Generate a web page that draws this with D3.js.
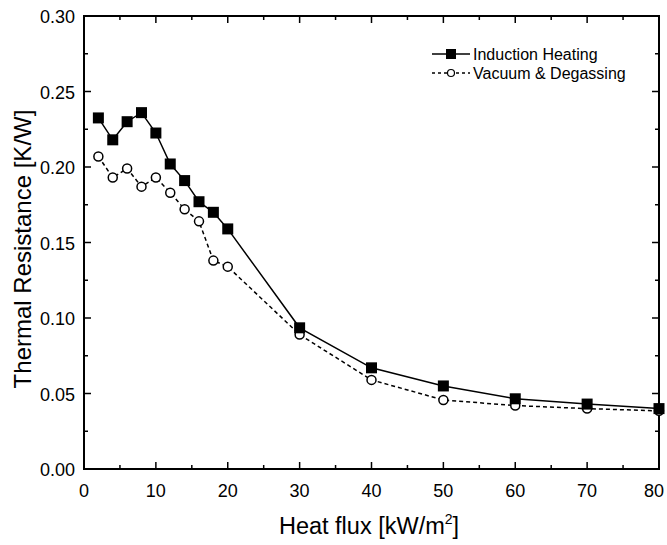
<!DOCTYPE html>
<html><head><meta charset="utf-8">
<script src="https://cdn.jsdelivr.net/npm/d3@7"></script>
<style>body{margin:0;background:#fff}svg{display:block}text{font-family:"Liberation Sans",Arial,sans-serif}</style>
</head><body>
<svg id="c" width="667" height="545"></svg>
<script>
const xValues = [2,4,6,8,10,12,14,16,18,20,30,40,50,60,70,80];
const inductionHeating = [0.2325,0.218,0.230,0.236,0.2225,0.202,0.191,0.177,0.170,0.159,0.0935,0.067,0.055,0.0465,0.043,0.040];
const vacuumDegassing = [0.207,0.193,0.199,0.187,0.193,0.183,0.172,0.164,0.138,0.134,0.089,0.059,0.0457,0.042,0.040,0.0385];
const xTicks = [0,10,20,30,40,50,60,70,80];
const yTicks = [0,0.05,0.10,0.15,0.20,0.25,0.30];
const seriesNames = ["Induction Heating","Vacuum & Degassing"];

const svg = d3.select("#c");
const L=84,R=659,T=16,B=469;
const x = d3.scaleLinear().domain([0,80]).range([L,R]);
const y = d3.scaleLinear().domain([0,0.30]).range([B,T]);

const g = svg.append("g");
const xMinor = d3.range(5,80,10), yMinor = d3.range(0.025,0.30,0.05);
function tick(x1,y1,x2,y2,w){g.append("line").attr("x1",x1).attr("y1",y1).attr("x2",x2).attr("y2",y2).attr("stroke","#000").attr("stroke-width",w||1.5);}
xTicks.forEach(v=>{tick(x(v),B,x(v),B-7);tick(x(v),T,x(v),T+7);});
xMinor.forEach(v=>{tick(x(v),B,x(v),B-4);tick(x(v),T,x(v),T+4);});
yTicks.forEach(v=>{tick(L,y(v),L+7,y(v));tick(R,y(v),R-7,y(v));});
yMinor.forEach(v=>{tick(L,y(v),L+4,y(v));tick(R,y(v),R-4,y(v));});
svg.append("rect").attr("x",L).attr("y",T).attr("width",R-L).attr("height",B-T).attr("fill","none").attr("stroke","#000").attr("stroke-width",2);

xTicks.forEach((v,i)=>{
  const last = i===xTicks.length-1;
  svg.append("text").attr("x",last?664:x(v)).attr("y",B+28).attr("text-anchor",last?"end":"middle").attr("font-size",18).text(v);
});
yTicks.forEach(v=>svg.append("text").attr("x",L-9).attr("y",y(v)+7).attr("text-anchor","end").attr("font-size",18).text(v.toFixed(2)));

const xl = svg.append("text").attr("x",369).attr("y",534).attr("text-anchor","middle").attr("font-size",23.5);
xl.append("tspan").text("Heat flux [kW/m");
xl.append("tspan").attr("font-size",14).attr("dy",-10).text("2");
xl.append("tspan").attr("dy",10).text("]");
svg.append("text").attr("transform","translate(31,249) rotate(-90)").attr("text-anchor","middle").attr("font-size",24).text("Thermal Resistance [K/W]");

const line = d3.line().x((d,i)=>x(xValues[i])).y(d=>y(d));
svg.append("path").datum(inductionHeating).attr("d",line).attr("fill","none").attr("stroke","#000").attr("stroke-width",1.5);
svg.append("path").datum(vacuumDegassing).attr("d",line).attr("fill","none").attr("stroke","#000").attr("stroke-width",1.5).attr("stroke-dasharray","4,3");
svg.append("g").selectAll("circle").data(vacuumDegassing).join("circle")
  .attr("cx",(d,i)=>x(xValues[i])).attr("cy",d=>y(d)).attr("r",4.5).attr("fill","#fff").attr("stroke","#000").attr("stroke-width",1.5);
svg.append("g").selectAll("rect").data(inductionHeating).join("rect")
  .attr("x",(d,i)=>x(xValues[i])-5.5).attr("y",d=>y(d)-5.5).attr("width",11).attr("height",11).attr("fill","#000");

const lg = svg.append("g");
lg.append("line").attr("x1",432).attr("x2",470).attr("y1",54).attr("y2",54).attr("stroke","#000").attr("stroke-width",1.5);
lg.append("rect").attr("x",446).attr("y",49).attr("width",10).attr("height",10).attr("fill","#000");
lg.append("text").attr("x",473).attr("y",60).attr("font-size",16).text(seriesNames[0]);
lg.append("line").attr("x1",432).attr("x2",470).attr("y1",73).attr("y2",73).attr("stroke","#000").attr("stroke-width",1.5).attr("stroke-dasharray","3,3");
lg.append("circle").attr("cx",451).attr("cy",73).attr("r",3.5).attr("fill","#fff").attr("stroke","#000").attr("stroke-width",1.2);
lg.append("text").attr("x",473).attr("y",79).attr("font-size",16).text(seriesNames[1]);
</script>
</body></html>
